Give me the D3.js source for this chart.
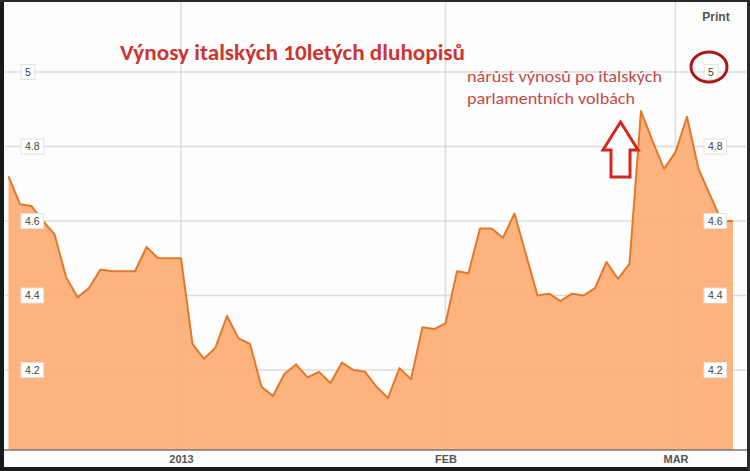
<!DOCTYPE html>
<html>
<head>
<meta charset="utf-8">
<script src="https://cdn.jsdelivr.net/npm/d3@7"></script>
<style>
  body { margin: 0; background: #fff; }
  svg { display: block; }
</style>
</head>
<body>
<svg width="750" height="471"></svg>
<script>
// trading days, Dec 2012 - Mar 2013
var dates = ["2012-12-11","2012-12-12","2012-12-13","2012-12-14","2012-12-17","2012-12-18","2012-12-19","2012-12-20","2012-12-21",
  "2012-12-24","2012-12-25","2012-12-26","2012-12-27","2012-12-28","2012-12-31",
  "2013-01-01","2013-01-02","2013-01-03","2013-01-04","2013-01-07","2013-01-08","2013-01-09","2013-01-10","2013-01-11",
  "2013-01-14","2013-01-15","2013-01-16","2013-01-17","2013-01-18","2013-01-21","2013-01-22","2013-01-23","2013-01-24",
  "2013-01-25","2013-01-28","2013-01-29","2013-01-30","2013-01-31",
  "2013-02-01","2013-02-04","2013-02-05","2013-02-06","2013-02-07","2013-02-08","2013-02-11","2013-02-12","2013-02-13",
  "2013-02-14","2013-02-15","2013-02-18","2013-02-19","2013-02-20","2013-02-21","2013-02-22","2013-02-25","2013-02-26",
  "2013-02-27","2013-02-28",
  "2013-03-01","2013-03-04","2013-03-05","2013-03-06","2013-03-07","2013-03-08"];

var yields = [4.72,4.645,4.64,4.60,4.565,4.45,4.395,4.42,4.47,
  4.465,4.465,4.465,4.53,4.50,4.50,
  4.50,4.27,4.23,4.26,4.345,4.285,4.27,4.155,4.13,
  4.19,4.215,4.18,4.195,4.165,4.22,4.20,4.195,4.155,
  4.125,4.205,4.175,4.315,4.31,
  4.325,4.465,4.46,4.58,4.58,4.555,4.62,4.51,4.40,
  4.405,4.385,4.405,4.40,4.42,4.49,4.445,4.485,4.895,
  4.815,4.74,
  4.785,4.88,4.74,4.67,4.60,4.60];

var tickDates = ["2013-01-01","2013-02-01","2013-03-01"];
var tickLabels = ["2013","FEB","MAR"];
var yTicks = [4.2, 4.4, 4.6, 4.8, 5];

var title = "Výnosy italských 10letých dluhopisů";
var note = ["nárůst výnosů po italských", "parlamentních volbách"];

var svg = d3.select("svg"),
    W = +svg.attr("width"),
    H = +svg.attr("height"),
    left = 5, right = 746, bottom = 450;

var data = dates.map(function(d, i) { return {date: d, value: yields[i]}; });

var x = d3.scalePoint().domain(dates).range([8.5, 733]);
var y = d3.scaleLinear().domain([4.2, 5]).range([370, 72]);

svg.append("rect")
    .attr("width", W).attr("height", H)
    .attr("fill", "#fdfdfd");

// grid
svg.append("g").selectAll("line")
    .data(yTicks)
  .enter().append("line")
    .attr("x1", left).attr("x2", right)
    .attr("y1", function(d) { return y(d); })
    .attr("y2", function(d) { return y(d); })
    .attr("stroke", "#dcdcdc")
    .attr("stroke-width", 1.5);

svg.append("g").selectAll("line")
    .data(tickDates)
  .enter().append("line")
    .attr("x1", function(d) { return x(d); })
    .attr("x2", function(d) { return x(d); })
    .attr("y1", 0).attr("y2", bottom)
    .attr("stroke", "#dcdcdc")
    .attr("stroke-width", 1.5);

var area = d3.area()
    .x(function(d) { return x(d.date); })
    .y0(bottom)
    .y1(function(d) { return y(d.value); });

var line = d3.line()
    .x(function(d) { return x(d.date); })
    .y(function(d) { return y(d.value); });

svg.append("path")
    .datum(data)
    .attr("d", area)
    .attr("fill", "#fdac72")
    .attr("fill-opacity", 0.92);

svg.append("path")
    .datum(data)
    .attr("d", line)
    .attr("fill", "none")
    .attr("stroke", "#e2782a")
    .attr("stroke-width", 2)
    .attr("stroke-linejoin", "round");

// x axis
var xAxis = d3.axisBottom(x)
    .tickValues(tickDates)
    .tickSize(0)
    .tickFormat(function(d, i) { return tickLabels[i]; });

var gx = svg.append("g")
    .attr("transform", "translate(0," + bottom + ")")
    .call(xAxis);
gx.select(".domain").remove();
gx.selectAll("text")
    .attr("dy", null)
    .attr("y", 13)
    .attr("font-family", "Liberation Sans, Arial, sans-serif")
    .attr("font-size", 11)
    .attr("font-weight", "bold")
    .attr("fill", "#555");

svg.append("line")
    .attr("x1", 0).attr("x2", W)
    .attr("y1", bottom).attr("y2", bottom)
    .attr("stroke", "#777")
    .attr("stroke-width", 1.5);

// y labels in little boxes, both sides
function yLabels(x0) {
  var g = svg.append("g").selectAll("g")
      .data(yTicks)
    .enter().append("g")
      .attr("transform", function(d) { return "translate(" + x0 + "," + y(d) + ")"; });
  g.append("text")
      .attr("x", 4)
      .attr("dy", "0.35em")
      .attr("font-family", "Liberation Sans, Arial, sans-serif")
      .attr("font-size", 10.5)
      .attr("fill", "#444")
      .text(function(d) { return d3.format("")(d); });
  g.insert("rect", "text")
      .attr("x", 0).attr("y", -7.5)
      .attr("height", 15)
      .attr("width", function() { return this.parentNode.querySelector("text").getComputedTextLength() + 8; })
      .attr("fill", "#fff")
      .attr("stroke", "#e2e2e2");
}
yLabels(21);
yLabels(704);

svg.append("text")
    .attr("x", 716).attr("y", 21)
    .attr("text-anchor", "middle")
    .attr("font-family", "Liberation Sans, Arial, sans-serif")
    .attr("font-size", 12)
    .attr("font-weight", "bold")
    .attr("fill", "#555")
    .text("Print");

// annotations
svg.append("text")
    .attr("x", 120).attr("y", 60)
    .attr("font-family", "Carlito, Lato, sans-serif")
    .attr("font-size", 22)
    .attr("font-weight", "bold")
    .attr("fill", "#cc3530")
    .attr("textLength", 345)
    .attr("lengthAdjust", "spacingAndGlyphs")
    .text(title);

var noteLen = [195, 168];
svg.append("g").selectAll("text")
    .data(note)
  .enter().append("text")
    .attr("x", 467)
    .attr("y", function(d, i) { return 82 + i * 22; })
    .attr("font-family", "Carlito, Lato, sans-serif")
    .attr("font-size", 16)
    .attr("fill", "#c44a48")
    .attr("textLength", function(d, i) { return noteLen[i]; })
    .attr("lengthAdjust", "spacingAndGlyphs")
    .text(function(d) { return d; });

svg.append("ellipse")
    .attr("cx", 709).attr("cy", 67)
    .attr("rx", 18).attr("ry", 15)
    .attr("fill", "none")
    .attr("stroke", "#a81818")
    .attr("stroke-width", 3);

svg.append("path")
    .attr("d", "M620.5,122 L638,150 L630,150 L630,177 L611,177 L611,150 L603,150 Z")
    .attr("fill", "#fff")
    .attr("stroke", "#d8261e")
    .attr("stroke-width", 3)
    .attr("stroke-linejoin", "miter");

// video frame edges
svg.append("rect").attr("x", 0).attr("y", 0).attr("width", 4).attr("height", H).attr("fill", "#1a1a1a");
svg.append("rect").attr("x", 0).attr("y", 0).attr("width", W).attr("height", 2).attr("fill", "#2a2a2a");
svg.append("rect").attr("x", 0).attr("y", 467).attr("width", W).attr("height", 4).attr("fill", "#1a1a1a");
svg.append("rect").attr("x", 747).attr("y", 0).attr("width", 3).attr("height", H).attr("fill", "#2a2a2a");
</script>
</body>
</html>
